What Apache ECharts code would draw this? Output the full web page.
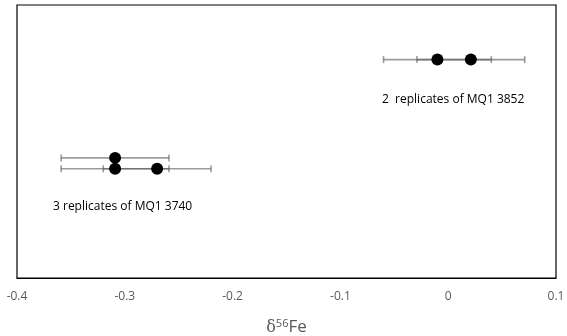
<!DOCTYPE html>
<html><head><meta charset="utf-8">
<script src="https://cdn.jsdelivr.net/npm/echarts@6/dist/echarts.min.js"></script>
<style>html,body{margin:0;padding:0;background:#fff}#c{width:567px;height:336px}</style>
</head><body><div id="c"></div>
<script>
// sample δ56Fe values, vertical placement rows, and 2SD errors
var xValues = [-0.01, 0.021, -0.309, -0.309, -0.27];
var yValues = [8.0, 8.0, 4.4, 4.0, 4.0];
var xErrors = [0.05, 0.05, 0.05, 0.05, 0.05];
var annotations = ['2  replicates of MQ1 3852', '3 replicates of MQ1 3740'];
var xTicks = [-0.4, -0.3, -0.2, -0.1, 0, 0.1];

var chart = echarts.init(document.getElementById('c'));
var pts = xValues.map(function(x,i){return [x, yValues[i]];});
var errData = xValues.map(function(x,i){return [x - xErrors[i], x + xErrors[i], yValues[i]];});
var FONT = 'Open Sans';
chart.setOption({
  animation:false,
  grid:{left:17,right:11,top:5,bottom:58,show:true,borderColor:'#000',borderWidth:1.2,backgroundColor:'#fff',
        containLabel:false,outerBoundsMode:'none'},
  xAxis:{type:'value',min:-0.4,max:0.1,interval:0.1,
    axisLine:{show:true,lineStyle:{color:'#000',width:1.2}},
    axisTick:{show:false},splitLine:{show:false},
    axisLabel:{color:'#595959',fontFamily:FONT,fontSize:12,margin:13,
      formatter:function(v){var r=Math.round(v*10)/10; return xTicks.indexOf(r)>=0?String(r):'';}},
    name:'{d|δ}{s|56}{f|Fe}',nameLocation:'middle',nameGap:40,
    nameTextStyle:{rich:{
      d:{fontFamily:'DejaVu Serif',fontSize:16,color:'#595959'},
      s:{fontFamily:FONT,fontSize:11,color:'#595959',verticalAlign:'top',padding:[0,0,8,0]},
      f:{fontFamily:FONT,fontSize:17,color:'#595959'}}}
  },
  yAxis:{type:'value',min:0,max:10,show:false,splitLine:{show:false}},
  series:[
    {type:'custom',data:errData,z:2,renderItem:function(params,api){
      var a=api.coord([api.value(0),api.value(2)]);
      var b=api.coord([api.value(1),api.value(2)]);
      var h=3.5;
      var st={stroke:'rgba(90,90,90,0.6)',lineWidth:1.6};
      return {type:'group',children:[
        {type:'line',shape:{x1:a[0],y1:a[1],x2:b[0],y2:b[1]},style:st},
        {type:'line',shape:{x1:a[0],y1:a[1]-h,x2:a[0],y2:a[1]+h},style:st},
        {type:'line',shape:{x1:b[0],y1:b[1]-h,x2:b[0],y2:b[1]+h},style:st}
      ]};
    }},
    {type:'scatter',data:pts,symbol:'circle',symbolSize:12,z:3,itemStyle:{color:'#000',opacity:1}}
  ],
  graphic:[
    {type:'text',left:382,top:94,style:{text:annotations[0],fontFamily:FONT,fontSize:12,fill:'#000'}},
    {type:'text',left:53,top:201,style:{text:annotations[1],fontFamily:FONT,fontSize:12,fill:'#000'}}
  ]
});
</script></body></html>
